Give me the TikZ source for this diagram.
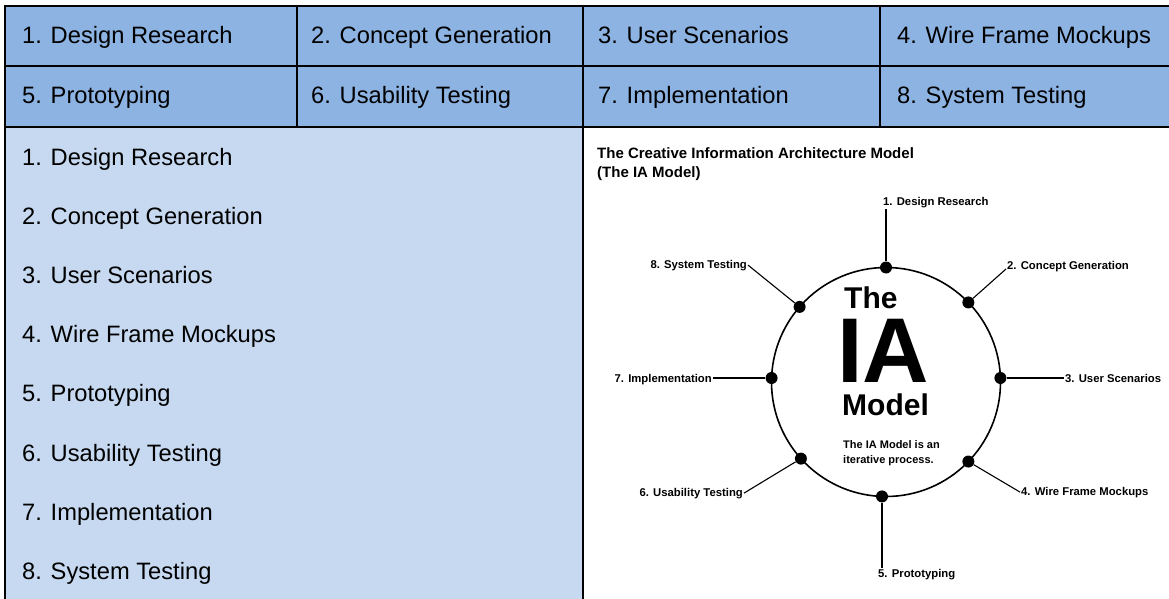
\documentclass[tikz,border=0pt]{standalone}
\usepackage{fontspec}
\setmainfont{Liberation Sans}
\usetikzlibrary{positioning}
\definecolor{hdrblue}{HTML}{8DB3E2}
\definecolor{listblue}{HTML}{C6D9F0}

\begin{document}
\begin{tikzpicture}[x=1pt, y=1pt,
        cell text/.style={anchor=base west, inner sep=0pt, font=\fontsize{23.7}{28}\selectfont},
        grid line/.style={line width=2pt},
        big text/.style={anchor=base west, inner sep=0pt, font=\fontsize{#1}{#1}\selectfont\bfseries},
        step label/.style={inner sep=1pt, font=\fontsize{11.3}{13}\selectfont\bfseries},
        dot/.style={circle, fill=black, inner sep=0pt, minimum size=12pt}]

        \useasboundingbox (0,0) rectangle (1169,-599);
        \fill[white] (0,0) rectangle (1169,-599);

        % table
        \fill[hdrblue] (5,-6.5) rectangle (1175,-127);
        \fill[listblue] (5,-127) rectangle (583,-605);
        \draw[grid line] (1175,-6.5) -- (5,-6.5) -- (5,-605);
        \draw[grid line] (5,-66.5) -- (1175,-66.5);
        \draw[grid line] (5,-127) -- (1175,-127);
        \draw[grid line] (297,-6.5) -- (297,-127);
        \draw[grid line] (583,-6.5) -- (583,-605);
        \draw[grid line] (880,-6.5) -- (880,-127);

        \foreach \i/\x/\y/\t in {1/22/43.5/Design Research, 2/311/43.5/Concept Generation,
                3/598/43.5/User Scenarios, 4/897/43.5/Wire Frame Mockups,
                5/22/103.5/Prototyping, 6/311/103.5/Usability Testing,
                7/598/103.5/Implementation, 8/897/103.5/System Testing}
            \node[cell text] (h\i) at (\x,-\y) {\i. \t};

        \foreach \t [count=\i] in {Design Research, Concept Generation, User Scenarios,
                Wire Frame Mockups, Prototyping, Usability Testing, Implementation, System Testing}
            \node[cell text] (s\i) at (22,{-165.5-59.1*(\i-1)}) {\i. \t};

        % the IA model
        \node[big text=15] (title) at (597,-158.5) {The Creative Information Architecture Model};
        \node[big text=15] (subtitle) at (597,-177.5) {(The IA Model)};

        \node[circle, draw, line width=1.6pt, minimum size=229pt, inner sep=0pt, outer sep=0pt] (ring) at (886,-382) {};
        \node[big text=30, text height=22pt, text depth=0pt] (bigthe) at (844,-308) {The};
        \node[big text=92, text height=66pt, text depth=0pt] (bigia) at (837,-382) {IA};
        \node[big text=30, text height=22pt, text depth=0pt] (bigmodel) at (842,-415) {Model};
        \node[big text=11] (note) at (843,-448) {The IA Model is an};
        \node[big text=11] (note2) at (843,-463) {iterative process.};

        \foreach \a [count=\i] in {90,44,2,-44,-92,-138,178,139}
            \node[dot] (d\i) at (ring.\a) {};

        \node[step label, anchor=base west] (l1) at (882,-205) {1. Design Research};
        \node[step label, anchor=base west] (l2) at (1006,-269) {2. Concept Generation};
        \node[step label, anchor=base west] (l3) at (1064,-382) {3. User Scenarios};
        \node[step label, anchor=base west] (l4) at (1020,-495) {4. Wire Frame Mockups};
        \node[step label, anchor=base west] (l5) at (877,-577) {5. Prototyping};
        \node[step label, anchor=base east] (l6) at (744,-496) {6. Usability Testing};
        \node[step label, anchor=base east] (l7) at (713,-382) {7. Implementation};
        \node[step label, anchor=base east] (l8) at (748,-268) {8. System Testing};

        \path[line width=1.1pt]
        (d1) edge (d1 |- l1.south)
        (d2) edge (l2.base west)
        (d3) edge (d3 -| l3.west)
        (d4) edge (l4.west)
        (d5) edge (d5 |- l5.north)
        (d6) edge (l6.east)
        (d7) edge (d7 -| l7.east)
        (d8) edge (l8.east);
\end{tikzpicture}
\end{document}
